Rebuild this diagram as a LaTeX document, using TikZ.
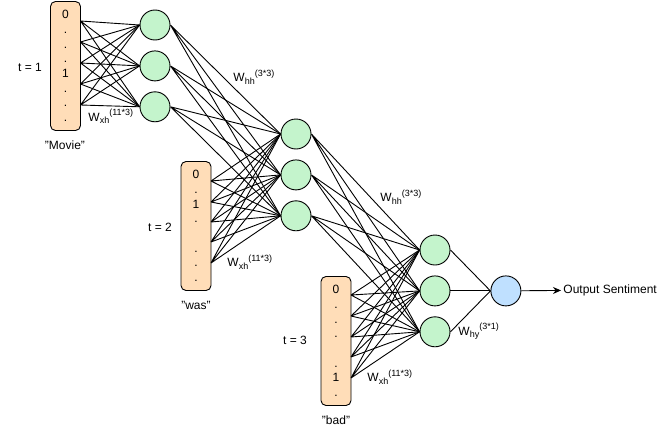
\documentclass[tikz,border=0pt]{standalone}
\usepackage{fontspec}
\setmainfont{Liberation Sans}
\usetikzlibrary{positioning,arrows.meta}
\definecolor{vecfill}{HTML}{FFDDB8}
\definecolor{hidfill}{HTML}{C4F4CC}
\definecolor{outfill}{HTML}{BFE0FF}
\newcommand{\weight}[2]{W\raisebox{-2.5pt}{\fontsize{9}{10}\selectfont #1}\raisebox{5.5pt}{\fontsize{9}{10}\selectfont #2}}

\begin{document}
\begin{tikzpicture}[x=1pt,y=-1pt,font=\fontsize{12}{14.7}\selectfont,line width=0.9pt,node distance=10pt,
    neuron/.style={circle,draw,fill=hidfill,minimum size=30pt,inner sep=0pt},
    outneuron/.style={neuron,fill=outfill},
    vec/.style={draw,fill=vecfill,rounded corners=5pt,minimum width=30pt,minimum height=129pt,align=center,inner sep=0pt},
    wlabel/.style={anchor=base west,inner sep=0pt}] %
    \useasboundingbox (0,0) rectangle (671,447);
    % word vectors
    \node[vec] (movie) at (65.5,66) {0\\.\\.\\.\\1\\.\\.\\.} ; %
    \node[vec] (was) at (196,226) {0\\.\\1\\.\\\mbox{}\\.\\.\\.} ; %
    \node[vec] (bad) at (336,341) {0\\.\\.\\.\\\mbox{}\\.\\1\\.} ; %
    \node (t1) at (30,67) {t = 1};
    \node (t2) at (160,227) {t = 2};
    \node (t3) at (295,340) {t = 3};
    \node (wmovie) at (65,145) {"Movie"};
    \node (wwas) at (196,305) {"was"};
    \node (wbad) at (336,420) {"bad"};
    % hidden states
    \node[neuron] (h1a) at (155,25) {} ; %
    \node[neuron, below=of h1a] (h1b) {} ;
    \node[neuron, below=of h1b] (h1c) {} ;
    \node[neuron] (h2a) at (296,134) {} ; %
    \node[neuron, below=of h2a] (h2b) {} ;
    \node[neuron, below=of h2b] (h2c) {} ;
    \node[neuron] (h3a) at (435,250) {} ; %
    \node[neuron, below=of h3a] (h3b) {} ;
    \node[neuron, below=of h3b] (h3c) {} ;
    \node[outneuron, right=40pt of h3b] (out) {} ;
    \node[anchor=west,inner sep=2pt] (sentiment) at (561,290) {Output Sentiment};
    % ports on the vectors
    \coordinate (m1) at (80.5,21); \coordinate (m2) at (80.5,42); \coordinate (m3) at (80.5,63);
    \coordinate (m4) at (80.5,84); \coordinate (m5) at (80.5,105);
    \coordinate (w1) at (211,181); \coordinate (w2) at (211,202); \coordinate (w3) at (211,222);
    \coordinate (w4) at (211,242); \coordinate (w5) at (211,263);
    \coordinate (b1) at (351,295); \coordinate (b2) at (351,316); \coordinate (b3) at (351,337);
    \coordinate (b4) at (351,357); \coordinate (b5) at (351,378);
    % input weights
    \draw (m1)--(h1a.west) (m1)--(h1b.west) (m1)--(h1c.west) ; %
    \draw (m2)--(h1a.west) (m2)--(h1b.west) (m2)--(h1c.west) ;
    \draw (m3)--(h1a.west) (m3)--(h1b.west) (m3)--(h1c.west) ;
    \draw (m4)--(h1a.west) (m4)--(h1b.west) (m4)--(h1c.west) ;
    \draw (m5)--(h1a.west) (m5)--(h1b.west) (m5)--(h1c.west) ;
    \draw (w1)--(h2a.west) (w1)--(h2b.west) (w1)--(h2c.west) ; %
    \draw (w2)--(h2a.west) (w2)--(h2b.west) (w2)--(h2c.west) ;
    \draw (w3)--(h2a.west) (w3)--(h2b.west) (w3)--(h2c.west) ;
    \draw (w4)--(h2a.west) (w4)--(h2b.west) (w4)--(h2c.west) ;
    \draw (w5)--(h2a.west) (w5)--(h2b.west) (w5)--(h2c.west) ;
    \draw (b1)--(h3a.west) (b1)--(h3b.west) (b1)--(h3c.west) ; %
    \draw (b2)--(h3a.west) (b2)--(h3b.west) (b2)--(h3c.west) ;
    \draw (b3)--(h3a.west) (b3)--(h3b.west) (b3)--(h3c.west) ;
    \draw (b4)--(h3a.west) (b4)--(h3b.west) (b4)--(h3c.west) ;
    \draw (b5)--(h3a.west) (b5)--(h3b.west) (b5)--(h3c.west) ;
    % recurrent weights
    \draw (h1a.east)--(h2a.west) (h1a.east)--(h2b.west) (h1a.east)--(h2c.west) ; %
    \draw (h1b.east)--(h2a.west) (h1b.east)--(h2b.west) (h1b.east)--(h2c.west) ;
    \draw (h1c.east)--(h2a.west) (h1c.east)--(h2b.west) (h1c.east)--(h2c.west) ;
    \draw (h2a.east)--(h3a.west) (h2a.east)--(h3b.west) (h2a.east)--(h3c.west) ; %
    \draw (h2b.east)--(h3a.west) (h2b.east)--(h3b.west) (h2b.east)--(h3c.west) ;
    \draw (h2c.east)--(h3a.west) (h2c.east)--(h3b.west) (h2c.east)--(h3c.west) ;
    % output
    \draw (h3a.east)--(out.west) ;
    \draw (h3b.east)--(out.west) ;
    \draw (h3c.east)--(out.west) ;
    \draw[-{Stealth[length=8pt,width=7pt]}] (out)--(sentiment) ;
    % weight labels
    \node[wlabel] (wxh1) at (88,121) {\weight{xh}{(11*3)}};
    \node[wlabel] (wxh2) at (227,266.5) {\weight{xh}{(11*3)}};
    \node[wlabel] (wxh3) at (367,381.5) {\weight{xh}{(11*3)}};
    \node[wlabel] (whh1) at (233,81.5) {\weight{hh}{(3*3)}};
    \node[wlabel] (whh2) at (380,201.5) {\weight{hh}{(3*3)}};
    \node[wlabel] (why) at (458,335) {\weight{hy}{(3*1)}};
  \end{tikzpicture}
\end{document}
